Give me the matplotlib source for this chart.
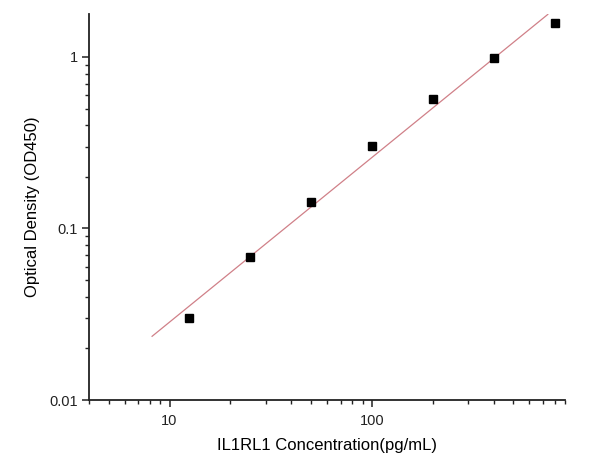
import numpy as np
import matplotlib.pyplot as plt

plt.rcParams['font.family'] = ['Liberation Sans', 'DejaVu Sans']

conc = [12.5, 25, 50, 100, 200, 400, 800]
od = [0.0301, 0.068, 0.142, 0.304, 0.572, 0.987, 1.58]
fit_range = [8.2, 740]

if __name__ == '__main__':
    fig = plt.figure(figsize=(6, 4.67), dpi=100)
    ax = fig.add_axes([89 / 600, 67 / 467, 476 / 600, 386 / 467])

    # linear fit in log-log space
    k, b = np.polyfit(np.log10(conc), np.log10(od), 1)
    xf = np.logspace(np.log10(fit_range[0]), np.log10(fit_range[1]), 100)
    ax.plot(xf, 10 ** (k * np.log10(xf) + b), '-', color='#d08088', linewidth=0.9)
    ax.plot(conc, od, 's', color='black', markersize=5.5)

    ax.set_xscale('log')
    ax.set_yscale('log')
    ax.set_xlim(4, 900)
    ax.set_ylim(0.01, 1.78)
    ax.set_xticks([10, 100])
    ax.set_xticklabels(['10', '100'])
    ax.set_yticks([0.01, 0.1, 1])
    ax.set_yticklabels(['0.01', '0.1', '1'])

    for s in ['top', 'right']:
        ax.spines[s].set_visible(False)
    for s in ['left', 'bottom']:
        ax.spines[s].set_linewidth(1.3)
        ax.spines[s].set_color('#222222')
    ax.tick_params(which='major', direction='out', length=5, width=1.1,
                   labelsize=10.5, colors='#222222', pad=3)
    ax.tick_params(axis='x', which='major', pad=5)
    ax.tick_params(which='minor', direction='out', length=3, width=1.0,
                   colors='#222222')

    ax.set_xlabel('IL1RL1 Concentration(pg/mL)', fontsize=12, labelpad=7)
    ax.set_ylabel('Optical Density (OD450)', fontsize=12, labelpad=7)

    plt.savefig('out.png', dpi=100)
